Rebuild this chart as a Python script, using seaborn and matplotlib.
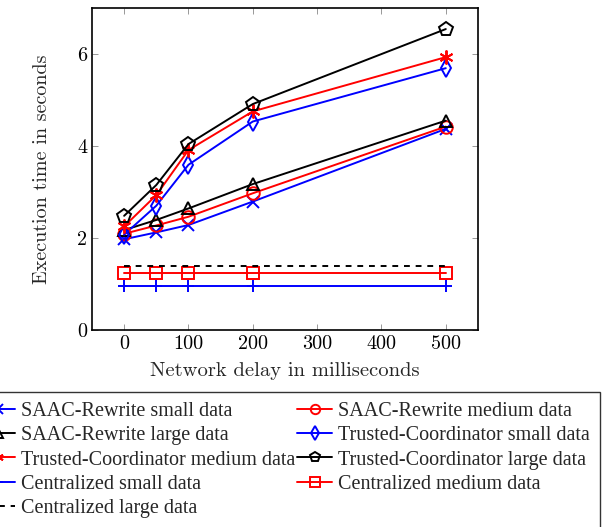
import numpy as np
import pandas as pd
import matplotlib
matplotlib.use("Agg")
import matplotlib.pyplot as plt
import seaborn as sns

# Data
delays = [0, 50, 100, 200, 500]

saac_small = [1.97, 2.12, 2.28, 2.79, 4.37]
saac_medium = [2.09, 2.27, 2.46, 2.97, 4.42]
saac_large = [2.17, 2.39, 2.64, 3.17, 4.55]
tc_small = [2.07, 2.70, 3.59, 4.53, 5.69]
tc_medium = [2.25, 2.93, 3.91, 4.75, 5.93]
tc_large = [2.48, 3.15, 4.04, 4.91, 6.54]
central_small = [0.96, 0.96, 0.96, 0.96, 0.96]
central_medium = [1.23, 1.23, 1.23, 1.23, 1.23]
central_large = [1.39, 1.39, 1.39, 1.39, 1.39]

labels = [
    "SAAC-Rewrite small data", "SAAC-Rewrite medium data", "SAAC-Rewrite large data",
    "Trusted-Coordinator small data", "Trusted-Coordinator medium data", "Trusted-Coordinator large data",
    "Centralized small data", "Centralized medium data", "Centralized large data",
]
series = [saac_small, saac_medium, saac_large, tc_small, tc_medium, tc_large,
          central_small, central_medium, central_large]

ASTERISK = (6, 2, 0)
# style per series: colour, marker, filled?, linestyle
styles = [
    ("#0000ff", "x", True, "-"),
    ("#ff0000", "o", False, "-"),
    ("#000000", "^", False, "-"),
    ("#0000ff", "d", False, "-"),
    ("#ff0000", ASTERISK, True, "-"),
    ("#000000", "p", False, "-"),
    ("#0000ff", "+", True, "-"),
    ("#ff0000", "s", False, "-"),
    ("#000000", None, True, (0, (3, 3))),
]

sns.set_theme(style="ticks")
plt.rcParams['font.family'] = ['Liberation Serif', 'DejaVu Serif']
plt.rcParams['axes.unicode_minus'] = False

CM = "cmr10"

fig = plt.figure(figsize=(6.05, 5.27), dpi=100)
ax = fig.add_axes([0.152, 0.374, 0.638, 0.611])

handles = []
for lab, vals, (col, mk, filled, ls) in zip(labels, series, styles):
    df = pd.DataFrame({"delay": delays, "time": vals})
    big = mk in (ASTERISK, "p")
    sns.lineplot(data=df, x="delay", y="time", ax=ax, color=col, marker=mk,
                 linestyle=ls, linewidth=1.4, markersize=10 if big else 9,
                 markeredgecolor=col, markerfacecolor=col if filled else "none",
                 markeredgewidth=1.4, label=lab, legend=False)
    handles.append(ax.lines[-1])

ax.set_xlim(-50, 550)
ax.set_ylim(0, 7)
ax.set_xticks([0, 100, 200, 300, 400, 500])
ax.set_yticks([0, 2, 4, 6])
ax.tick_params(direction="in", top=True, right=True, length=4, width=0.6,
               colors="#888888", labelcolor="black", labelsize=14.5)
for t in ax.get_xticklabels() + ax.get_yticklabels():
    t.set_fontfamily(CM)
for sp in ax.spines.values():
    sp.set_linewidth(1.2)
    sp.set_color("black")
ax.set_xlabel("Network delay in milliseconds", fontsize=14.8, fontfamily=CM, labelpad=7)
ax.set_ylabel("Execution time in seconds", fontsize=14.5, fontfamily=CM, labelpad=19)

# pgfplots fills the legend row by row; matplotlib fills column by column
order = [0, 2, 4, 6, 8, 1, 3, 5, 7]
leg = fig.legend([handles[i] for i in order], [labels[i] for i in order],
                 ncol=2, loc="upper right", bbox_to_anchor=(0.991, 0.256),
                 fontsize=14.5, frameon=True, fancybox=False, edgecolor="black",
                 handlelength=1.7, handletextpad=0.3, columnspacing=0.1,
                 labelspacing=0.25, borderpad=0.5, borderaxespad=0,
                 markerscale=0.75)
leg.get_frame().set_linewidth(1.0)

fig.savefig("out.png", dpi=100)
